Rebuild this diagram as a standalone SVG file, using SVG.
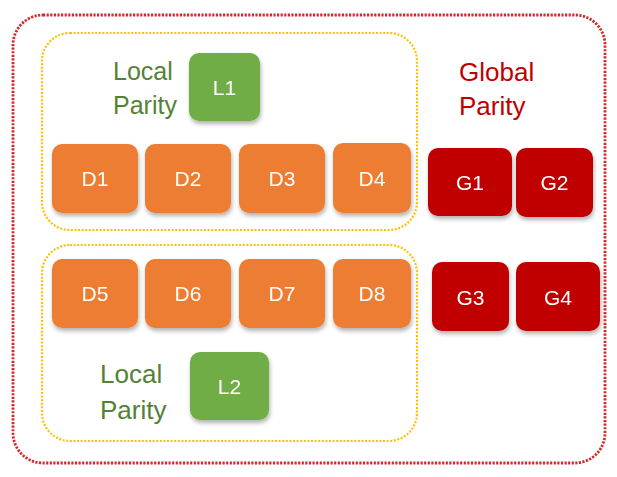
<svg xmlns="http://www.w3.org/2000/svg" width="617" height="477" viewBox="0 0 617 477">
<style>
.outer{fill:none;stroke:#D02A2A;stroke-width:2.8;stroke-dasharray:2.2 1.4}
.grp{fill:none;stroke:#FFC000;stroke-width:2.2;stroke-dasharray:2 1.6}
.box{filter:url(#sh)}
.d{fill:#ED7D31}
.l{fill:#70AD47}
.g{fill:#C00000}
.bt{font-family:"Liberation Sans","Open Sans",sans-serif;font-size:21px;fill:#fff;text-anchor:middle}
.lp{font-family:"Liberation Sans","Open Sans",sans-serif;font-size:25px;fill:#548235}
.gp{font-family:"Liberation Sans","Open Sans",sans-serif;font-size:26px;fill:#C00000}
</style>
<defs>
<filter id="sh" x="-20%" y="-20%" width="140%" height="150%">
<feDropShadow dx="1" dy="3" stdDeviation="2" flood-color="#000" flood-opacity="0.3"/>
</filter>
</defs>
<rect width="617" height="477" fill="#fff"/>
<rect class="outer" x="13" y="15" width="592" height="448" rx="30"/>
<rect class="grp" x="42" y="33" width="375" height="197" rx="28"/>
<rect class="grp" x="42" y="245" width="375" height="196" rx="28"/>
<g id="connectors"/>
<g id="label-local1"><text class="lp" x="113" y="80">Local</text><text class="lp" x="113" y="114">Parity</text></g>
<g id="label-local2"><text class="lp" x="100" y="383" style="font-size:26px">Local</text><text class="lp" x="100" y="419" style="font-size:26px">Parity</text></g>
<g id="label-global"><text class="gp" x="459" y="81">Global</text><text class="gp" x="459" y="115">Parity</text></g>
<g id="L1" class="box"><rect class="l" x="189" y="53" width="71" height="68" rx="10"/><text class="bt" x="224.5" y="95">L1</text></g>
<g id="D1" class="box"><rect class="d" x="52" y="144" width="86" height="69" rx="10"/><text class="bt" x="95" y="186">D1</text></g>
<g id="D2" class="box"><rect class="d" x="145" y="144" width="86" height="69" rx="10"/><text class="bt" x="188" y="186">D2</text></g>
<g id="D3" class="box"><rect class="d" x="239" y="144" width="86" height="69" rx="10"/><text class="bt" x="282" y="186">D3</text></g>
<g id="D4" class="box"><rect class="d" x="333" y="143" width="78" height="70" rx="10"/><text class="bt" x="372" y="186">D4</text></g>
<g id="G1" class="box"><rect class="g" x="428" y="148" width="84" height="68" rx="10"/><text class="bt" x="470" y="190">G1</text></g>
<g id="G2" class="box"><rect class="g" x="516" y="148" width="77" height="69" rx="10"/><text class="bt" x="554.5" y="190">G2</text></g>
<g id="D5" class="box"><rect class="d" x="52" y="259" width="86" height="69" rx="10"/><text class="bt" x="95" y="301">D5</text></g>
<g id="D6" class="box"><rect class="d" x="145" y="259" width="86" height="69" rx="10"/><text class="bt" x="188" y="301">D6</text></g>
<g id="D7" class="box"><rect class="d" x="239" y="259" width="86" height="69" rx="10"/><text class="bt" x="282" y="301">D7</text></g>
<g id="D8" class="box"><rect class="d" x="333" y="259" width="78" height="69" rx="10"/><text class="bt" x="372" y="301">D8</text></g>
<g id="G3" class="box"><rect class="g" x="432" y="262" width="77" height="69" rx="10"/><text class="bt" x="470.5" y="305">G3</text></g>
<g id="G4" class="box"><rect class="g" x="516" y="262" width="84" height="69" rx="10"/><text class="bt" x="558" y="305">G4</text></g>
<g id="L2" class="box"><rect class="l" x="190" y="352" width="79" height="68" rx="10"/><text class="bt" x="229.5" y="394">L2</text></g>
</svg>
